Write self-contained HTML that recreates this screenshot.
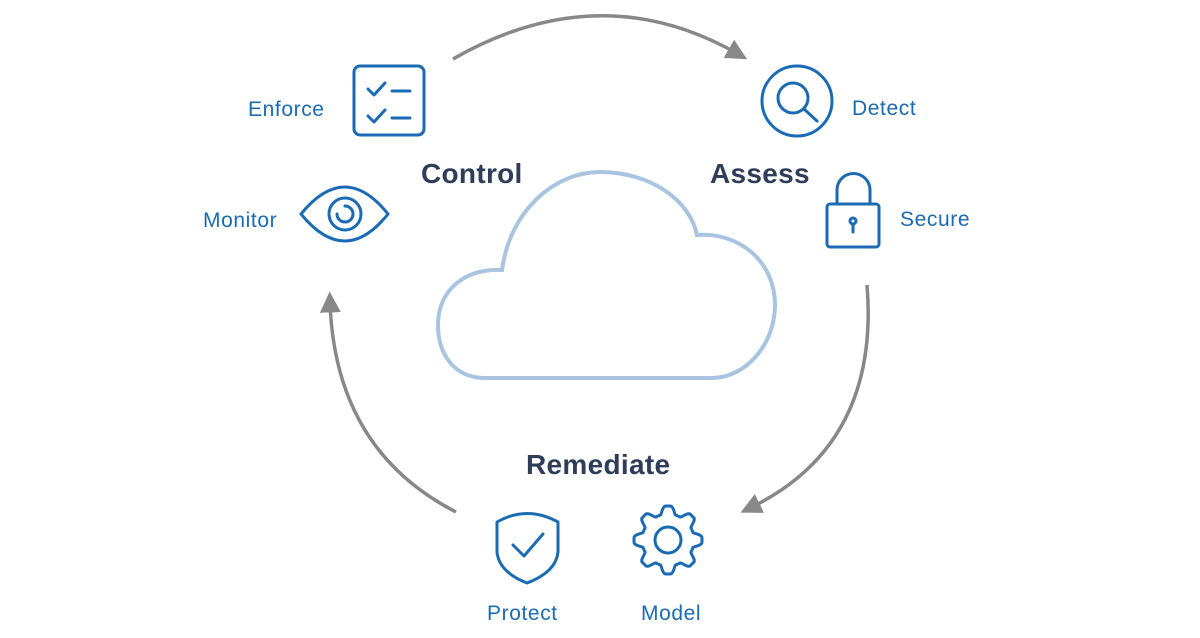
<!DOCTYPE html>
<html><head><style>
html,body{margin:0;padding:0;background:#fff;}
svg{display:block}
.b{font-family:"Liberation Sans",sans-serif;font-size:21px;letter-spacing:0.6px;fill:#1a6bb3}
.h{font-family:"Liberation Sans",sans-serif;font-size:28px;font-weight:bold;letter-spacing:0.3px;fill:#2f3d58}
</style></head><body>
<svg width="1200" height="638" viewBox="0 0 1200 638" xmlns="http://www.w3.org/2000/svg">
<defs><marker id="ar" markerWidth="6" markerHeight="6" refX="3" refY="3" orient="auto" markerUnits="strokeWidth"><path d="M0,0 L6,3 L0,6 Z" fill="#888"/></marker></defs>
<g fill="none" stroke="#888" stroke-width="3.5">
<path d="M453,59 Q600,-25 738,54" marker-end="url(#ar)"/>
<path d="M867,285 Q880,445 750,508" marker-end="url(#ar)"/>
<path d="M456,512 Q335,450 330,302" marker-end="url(#ar)"/>
</g>
<path d="M485,378 C455,378 438,355 438,325 C438,290 465,268 502,270 C510,210 555,172 600,172 C650,172 690,200 697,235 C740,232 775,262 775,305 C775,345 745,378 712,378 Z" fill="none" stroke="#a9c4e0" stroke-width="4"/>
<g fill="none" stroke="#1a6bb3" stroke-width="3" stroke-linecap="round" stroke-linejoin="round">
<rect x="354" y="66" width="70" height="69" rx="6"/>
<path d="M368,89 l6,6 l11,-12 M392,91 h18 M368,116 l6,6 l11,-12 M392,118 h18"/>
<path d="M301,214 Q345,160 388,214 Q345,268 301,214 Z"/>
<circle cx="345" cy="214" r="16"/>
<path d="M345,206 A8,8 0 1 1 337,214"/>
<circle cx="797" cy="101" r="35"/>
<circle cx="793" cy="98" r="15"/>
<path d="M804,109 L817,121"/>
<rect x="827" y="204" width="52" height="43" rx="3"/>
<path d="M837,204 V190 A16.5,16.5 0 0 1 870,190 V204"/>
<circle cx="853" cy="221" r="3"/>
<path d="M853,224 V232"/>
<path d="M497,522 Q527,505 558,522 V552 Q556,572 527,583 Q499,572 497,552 Z"/>
<path d="M513,545 l11,11 l19,-22"/>
<circle cx="668" cy="540" r="13"/>
</g>
<path id="gear" fill="none" stroke="#1a6bb3" stroke-width="3" stroke-linejoin="round" d=""/>
<script>
(function(){var cx=668,cy=540,n=8,R=34,r=26,d="";for(var i=0;i<=n*16;i++){var a=i/(n*16)*2*Math.PI;var t=Math.cos(a*n);var rr=r+(R-r)*(0.5+0.5*Math.max(-1,Math.min(1,t*1.6)));var x=cx+rr*Math.sin(a),y=cy-rr*Math.cos(a);d+=(i?"L":"M")+x.toFixed(1)+","+y.toFixed(1);}document.getElementById("gear").setAttribute("d",d+"Z");})();
</script>
<text class="b" x="248" y="116">Enforce</text>
<text class="b" x="203" y="227">Monitor</text>
<text class="b" x="852" y="115">Detect</text>
<text class="b" x="900" y="226">Secure</text>
<text class="b" x="487" y="620">Protect</text>
<text class="b" x="641" y="620">Model</text>
<text class="h" x="421" y="183">Control</text>
<text class="h" x="710" y="183">Assess</text>
<text class="h" x="526" y="474">Remediate</text>
</svg>
</body></html>
